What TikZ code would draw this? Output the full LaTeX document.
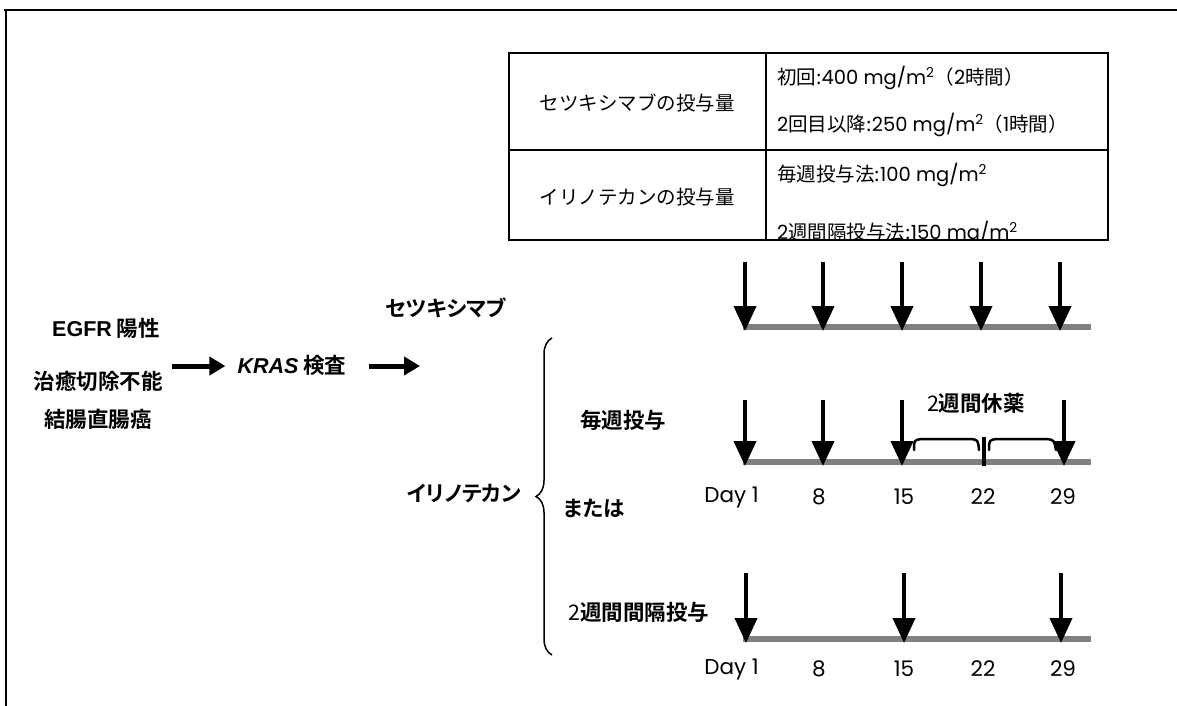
\documentclass[tikz,border=0pt]{standalone}
\usepackage{fontspec}
\setmainfont{Noto Sans CJK JP}[BoldFont={Noto Sans CJK JP Bold}]
\newfontfamily\jpp{Noto Sans CJK JP}[BoldFont={Noto Sans CJK JP Bold},RawFeature=+palt]
\newfontfamily\latf{Poppins}
\newfontfamily\arialf{Liberation Sans}
\usetikzlibrary{arrows.meta,decorations.pathreplacing}
\definecolor{barg}{RGB}{128,128,128}
\begin{document}
\begin{tikzpicture}[x=1pt,y=-1pt,
  frame/.style={line width=2.5pt},
  tbl/.style={line width=2.2pt},
  tline/.style={line width=5.5pt,draw=barg},
  darr/.style={line width=4pt,-{Triangle[length=25pt,width=22pt]}},
  harr/.style={line width=5pt,-{Triangle[length=16pt,width=18pt]}},
  lbl/.style={font=\jpp\fontsize{21.5}{24}\selectfont\bfseries,inner sep=0pt},
  tab/.style={font=\fontsize{19.5}{22}\selectfont,inner sep=0pt},
  day/.style={font=\latf\fontsize{21.5}{24}\selectfont,inner sep=0pt},
  rest/.style={line width=2.5pt,line cap=round}]
\useasboundingbox (0,0) rectangle (1177,706);
% frame
\draw[frame] (4,10) -- (1177,10);
\draw[frame] (6,9) -- (6,706);
% table
\draw[tbl] (509,53) rectangle (1108,240);
\draw[line width=1.6pt] (766,53) -- (766,240);
\draw[line width=1.6pt] (509,150) -- (1108,150);
\node[tab] (t1) at (637,103) {セツキシマブの投与量};
\node[tab] (t2) at (637,197) {イリノテカンの投与量};
\node[tab,anchor=west] (r1) at (777,78) {初回:{\latf 400 mg/m\textsuperscript{2}}（{\latf 2}時間）};
\node[tab,anchor=west] (r2) at (777,125) {{\latf 2}回目以降:{\latf 250 mg/m\textsuperscript{2}}（{\latf 1}時間）};
\node[tab,anchor=west] (r3) at (777,175) {毎週投与法:{\latf 100 mg/m\textsuperscript{2}}};
\begin{scope}
\clip (767,151) rectangle (1107,239);
\node[tab,anchor=west] (r4) at (777,233) {{\latf 2}週間隔投与法:{\latf 150 mg/m\textsuperscript{2}}};
\end{scope}
% left labels
\node[lbl] (egfr) at (106,328) {{\arialf\bfseries EGFR} 陽性};
\node[lbl] (cond2) at (98,381) {治癒切除不能};
\node[lbl] (cond3) at (98,419) {結腸直腸癌};
\node[lbl] (kras) at (292,365) {{\arialf\bfseries\itshape KRAS} 検査};
\coordinate (a1s) at (172,366);
\coordinate (a2e) at (420,366);
\draw[harr] (a1s) -- ([xshift=-12pt]kras.west |- a1s);
\draw[harr] ([xshift=22pt]kras.east |- a2e) -- (a2e);
\node[lbl] (cetx) at (446,308) {セツキシマブ};
\node[lbl] (irino) at (464,493) {イリノテカン};
\node[lbl,anchor=west] (weekly) at (580,420) {毎週投与};
\node[lbl,anchor=west] (or) at (563,508) {または};
\node[lbl,anchor=west] (biw) at (568,612) {{\mdseries 2}週間間隔投与};
% brace
\coordinate (brB) at (552,655);
\coordinate (brT) at (552,338);
\draw[line width=1.5pt,decorate,decoration={brace,amplitude=16pt}] (brB) -- (brT);
% timeline 1
\coordinate (b1s) at (743,327); \coordinate (b1e) at (1091,327);
\draw[tline] (b1s) -- (b1e);
\foreach \x/\n in {745/a,823/b,902/c,981/d,1060/e}{
  \coordinate (c1\n) at (\x,262);
  \coordinate (c1\n t) at (\x,331);
  \draw[darr] (c1\n) -- (c1\n t);
}
% timeline 2
\coordinate (b2s) at (743,462); \coordinate (b2e) at (1091,462);
\draw[tline] (b2s) -- (b2e);
\foreach \x/\n in {745/a,823/b,902/c,1064/e}{
  \coordinate (c2\n) at (\x,400);
  \coordinate (c2\n t) at (\x,466);
  \draw[darr] (c2\n) -- (c2\n t);
}
\draw[rest] (914,450) .. controls (914,440) .. (922,439) -- (971,439) .. controls (978,440) .. (979,450);
\draw[line width=4pt] (984,437) -- (984,466);
\draw[rest] (989,450) .. controls (989,440) .. (997,439) -- (1047,439) .. controls (1054,440) .. (1056,450);
\node[lbl] (rest) at (976,403) {{\mdseries 2}週間休薬};
\foreach \x/\t/\n in {819/8/b,904/15/c,983/22/d,1063/29/e}{
  \node[day] (d1\n) at (\x,497) {\t};
  \node[day] (d2\n) at (\x,669) {\t};
}
\node[day,anchor=east] (d1a) at (759,497) {Day 1};
\node[day,anchor=east] (d2a) at (759,669) {Day 1};
% timeline 3
\coordinate (b3s) at (743,639); \coordinate (b3e) at (1091,639);
\draw[tline] (b3s) -- (b3e);
\foreach \x/\n in {746/a,904/c,1061/e}{
  \coordinate (c3\n) at (\x,573);
  \coordinate (c3\n t) at (\x,643);
  \draw[darr] (c3\n) -- (c3\n t);
}
\end{tikzpicture}
\end{document}
